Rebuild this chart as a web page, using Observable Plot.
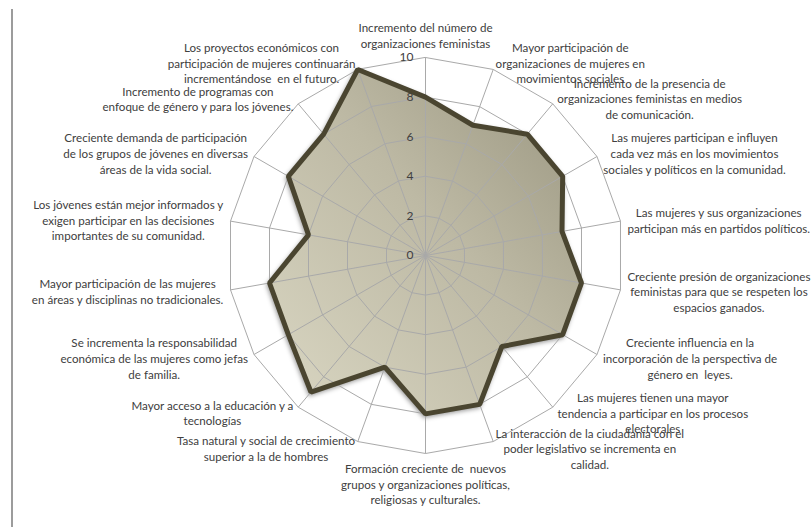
<!DOCTYPE html>
<html>
<head>
<meta charset="utf-8">
<script src="https://cdn.jsdelivr.net/npm/d3@7"></script>
<script src="https://cdn.jsdelivr.net/npm/@observablehq/plot@0.6"></script>
<style>
  html, body { margin: 0; padding: 0; background: #ffffff; }
  #wrap { position: relative; width: 812px; height: 527px; overflow: hidden; }
  #edge { position: absolute; left: 11px; top: 9px; width: 2px; height: 518px; background: #9c9c9c; }
</style>
</head>
<body>
<div id="wrap"><div id="edge"></div></div>
<script>
// ---- data ----
const categories = [
  "Incremento del número de\norganizaciones feministas",
  "Mayor participación de\norganizaciones de mujeres en\nmovimientos sociales",
  "Incremento de la presencia de\norganizaciones feministas en medios\nde comunicación.",
  "Las mujeres participan e influyen\ncada vez más en los movimientos\nsociales y políticos en la comunidad.",
  "Las mujeres y sus organizaciones\nparticipan más en partidos políticos.",
  "Creciente presión de organizaciones\nfeministas para que se respeten los\nespacios ganados.",
  "Creciente influencia en la\nincorporación de la perspectiva de\ngénero en  leyes.",
  "Las mujeres tienen una mayor\ntendencia a participar en los procesos\nelectorales",
  "La interacción de la ciudadanía con el\npoder legislativo se incrementa en\ncalidad.",
  "Formación creciente de  nuevos\ngrupos y organizaciones políticas,\nreligiosas y culturales.",
  "Tasa natural y social de crecimiento\nsuperior a la de hombres",
  "Mayor acceso a la educación y a\ntecnologías",
  "Se incrementa la responsabilidad\neconómica de las mujeres como jefas\nde familia.",
  "Mayor participación de las mujeres\nen áreas y disciplinas no tradicionales.",
  "Los jóvenes están mejor informados y\nexigen participar en las decisiones\nimportantes de su comunidad.",
  "Creciente demanda de participación\nde los grupos de jóvenes en diversas\náreas de la vida social.",
  "Incremento de programas con\nenfoque de género y para los jóvenes.",
  "Los proyectos económicos con\nparticipación de mujeres continuarán\nincrementándose  en el futuro."
];
const values = [8, 7, 8, 8, 7, 8, 8, 6, 8, 8, 6, 9, 8, 8, 6, 8, 8, 10];
const tickValues = [0, 2, 4, 6, 8, 10];
const maxValue = 10;

// ---- layout ----
const W = 812, H = 527;
const cx = 425, cy = 255;      // centre in px
const k = 19.8;                // px per unit
const fontSize = 11.6, lineHeight = 1.34;
const fontFamily = "Lato";

const n = categories.length;
const angle = i => (i * 2 * Math.PI) / n;
const px = (v, i) => v * Math.sin(angle(i));
const py = (v, i) => v * Math.cos(angle(i));

const pts = values.map((v, i) => ({i, v}));
const axes = categories.map((c, i) => ({i, c}));
const rings = [];
for (const t of tickValues.filter(t => t > 0)) for (let i = 0; i < n; i++) rings.push({t, i});

// label placement (Excel-like: box adjacent to a point just outside the outer ring)
const ctx = document.createElement("canvas").getContext("2d");
ctx.font = `${fontSize}px ${fontFamily}`;
const gap = 7 / k;
const labels = axes.map(({i, c}) => {
  const lines = c.split("\n");
  const w = d3.max(lines, l => ctx.measureText(l.replace(/ +/g, " ")).width) / k;
  const h = (lines.length * fontSize * lineHeight) / k;
  const s = Math.sin(angle(i)), co = Math.cos(angle(i));
  let x = (maxValue + gap) * s, y = (maxValue + gap) * co;
  if (Math.abs(s) < 0.01) { y += co > 0 ? h / 2 : -h / 2; }
  else if (s > 0) x += w / 2;
  else x -= w / 2;
  return {x, y, c};
});

const plot = Plot.plot({
  width: W, height: H,
  margin: 0,
  x: {domain: [-cx / k, (W - cx) / k], axis: null},
  y: {domain: [-(H - cy) / k, cy / k], axis: null},
  style: {fontFamily, fontSize: `${fontSize}px`, background: "transparent", overflow: "visible"},
  marks: [
    // soft shadow
    Plot.line(pts, {x: d => px(d.v, d.i), y: d => py(d.v, d.i), curve: "linear-closed",
      fill: "#000000", fillOpacity: 0.28, stroke: "#000000", strokeOpacity: 0.28, strokeWidth: 5,
      dx: -1, dy: 2}),
    // filled polygon
    Plot.line(pts, {x: d => px(d.v, d.i), y: d => py(d.v, d.i), curve: "linear-closed",
      fill: "#bdb9a4", stroke: "none"}),
    Plot.line(rings, {x: d => px(d.t, d.i), y: d => py(d.t, d.i), z: "t", curve: "linear-closed",
      stroke: "#a9a9a9", strokeWidth: 1}),
    Plot.link(axes, {x1: 0, y1: 0, x2: d => px(maxValue, d.i), y2: d => py(maxValue, d.i),
      stroke: "#a9a9a9", strokeWidth: 1}),
    Plot.line(pts, {x: d => px(d.v, d.i), y: d => py(d.v, d.i), curve: "linear-closed",
      stroke: "#4a4530", strokeWidth: 5, strokeLinejoin: "miter", fill: "none"}),
    Plot.text(tickValues, {x: 0, y: d => d, text: d => String(d), dx: -12, textAnchor: "end",
      fill: "#404040", fontSize: 12}),
    Plot.text(labels, {x: "x", y: "y", text: "c", textAnchor: "middle", lineAnchor: "middle",
      lineHeight, fill: "#404040", fontSize})
  ]
});

const svg = d3.select(plot);
const defs = svg.insert("defs", ":first-child");
const g = defs.append("linearGradient").attr("id", "radarFill")
  .attr("x1", 0).attr("y1", 1).attr("x2", 1).attr("y2", 0);
g.append("stop").attr("offset", "0%").attr("stop-color", "#dad7c3");
g.append("stop").attr("offset", "55%").attr("stop-color", "#bdb9a4");
g.append("stop").attr("offset", "100%").attr("stop-color", "#98947e");

const groups = svg.selectAll(":scope > g").nodes();
// shadow: blur it
d3.select(groups[0]).style("filter", "blur(2px)");
// fill: gradient
d3.select(groups[1]).selectAll("path").attr("fill", "url(#radarFill)");

document.getElementById("wrap").appendChild(plot);
</script>
</body>
</html>
